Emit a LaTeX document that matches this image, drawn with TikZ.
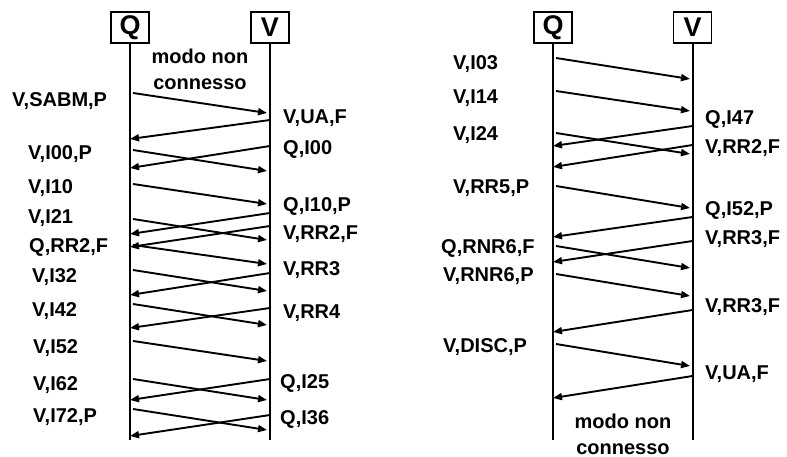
\documentclass[tikz,border=0pt]{standalone}
\usepackage{fontspec}
\setmainfont{Liberation Sans}[BoldFont=Liberation Sans Bold]
\usetikzlibrary{arrows.meta}

\begin{document}
\begin{tikzpicture}[x=1pt,y=-1pt,
	station/.style={draw,line width=1.3pt,minimum width=38pt,minimum height=31pt,inner sep=0pt,
		font=\bfseries\fontsize{27}{27}\selectfont},
	life/.style={line width=2pt},
	msg/.style={line width=1.9pt,-{Triangle[length=9pt,width=7pt]}},
	lbl/.style={anchor=west,inner sep=0pt,text height=14pt,text depth=0pt,
		font=\bfseries\fontsize{20}{20}\selectfont},
	note/.style={align=center,inner sep=0pt,font=\bfseries\fontsize{20}{26}\selectfont}]
	\useasboundingbox (0,0) rectangle (787,457);

	% stations and lifelines
	\node[station] (qa) at (130,27.5) {Q};
	\node[station] (va) at (270,27.5) {V};
	\node[station] (qb) at (553,27.5) {Q};
	\node[station] (vb) at (692.5,27.5) {V};
	\coordinate (qa end) at (130,440);
	\coordinate (va end) at (270,440);
	\coordinate (qb end) at (553,440);
	\coordinate (vb end) at (692.5,440);
	\draw[life] (qa.south) -- (qa end);
	\draw[life] (va.south) -- (va end);
	\draw[life] (qb.south) -- (qb end);
	\draw[life] (vb.south) -- (vb end);

	% left: connection set up and I-frames
	\node[note] (nc1) at (200,69.5) {modo non\\connesso};
	\foreach \ya/\yb [count=\i] in {93/113,150/171,184/204,219/240,245/264,270/291,304/325,341/361,379/400,409/430}{
		\coordinate (qa\i) at (133,\ya);
		\coordinate (va\i) at (267,\yb);
		\draw[msg] (qa\i) -- (va\i);
	}
	\foreach \ya/\yb [count=\i] in {120/139,146/168,213/234,226/247,273/295,308/328,379/400,415/436}{
		\coordinate (vr\i) at (270,\ya);
		\coordinate (qr\i) at (130,\yb);
		\draw[msg] (vr\i) -- (qr\i);
	}
	\node[lbl] (sabm) at (12,100) {V,SABM,P};
	\node[lbl] (i00p) at (28,153) {V,I00,P};
	\node[lbl] (i10) at (28,187) {V,I10};
	\node[lbl] (i21) at (28,217) {V,I21};
	\node[lbl] (rr2q) at (29,245) {Q,RR2,F};
	\node[lbl] (i32) at (32,275) {V,I32};
	\node[lbl] (i42) at (32,309) {V,I42};
	\node[lbl] (i52) at (33,346) {V,I52};
	\node[lbl] (i62) at (33,383) {V,I62};
	\node[lbl] (i72p) at (33,415) {V,I72,P};
	\node[lbl] (uaa) at (283,117) {V,UA,F};
	\node[lbl] (qi00) at (283,148) {Q,I00};
	\node[lbl] (qi10p) at (283,205) {Q,I10,P};
	\node[lbl] (rr2v) at (283,233) {V,RR2,F};
	\node[lbl] (rr3) at (283,268) {V,RR3};
	\node[lbl] (rr4) at (283,311) {V,RR4};
	\node[lbl] (qi25) at (280,381) {Q,I25};
	\node[lbl] (qi36) at (280,417) {Q,I36};

	% right: flow control and disconnection
	\node[note] (nc2) at (623,434) {modo non\\connesso};
	\foreach \ya/\yb [count=\i] in {58/79,91/111,133/154,186/208,246/268,274/296,344/366}{
		\coordinate (qb\i) at (556,\ya);
		\coordinate (vb\i) at (690,\yb);
		\draw[msg] (qb\i) -- (vb\i);
	}
	\foreach \ya/\yb [count=\i] in {126/146,145/167,217/237,241/262,310/332,376/398}{
		\coordinate (vs\i) at (692.5,\ya);
		\coordinate (qs\i) at (553,\yb);
		\draw[msg] (vs\i) -- (qs\i);
	}
	\node[lbl] (i03) at (453,63) {V,I03};
	\node[lbl] (i14) at (453,97) {V,I14};
	\node[lbl] (i24) at (453,134) {V,I24};
	\node[lbl] (rr5p) at (453,187) {V,RR5,P};
	\node[lbl] (rnrq) at (441,246) {Q,RNR6,F};
	\node[lbl] (rnrv) at (443,274) {V,RNR6,P};
	\node[lbl] (disc) at (443,345) {V,DISC,P};
	\node[lbl] (qi47) at (705,118) {Q,I47};
	\node[lbl] (rr2b) at (705,147) {V,RR2,F};
	\node[lbl] (qi52p) at (705,209) {Q,I52,P};
	\node[lbl] (rr3a) at (705,237) {V,RR3,F};
	\node[lbl] (rr3b) at (705,305) {V,RR3,F};
	\node[lbl] (uab) at (705,372) {V,UA,F};
\end{tikzpicture}
\end{document}
